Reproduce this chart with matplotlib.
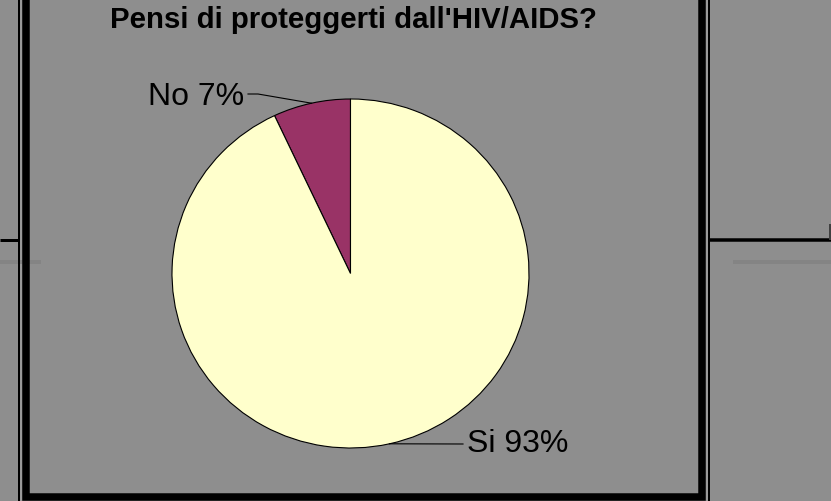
import numpy as np
import matplotlib
matplotlib.use('Agg')
import matplotlib.pyplot as plt
from matplotlib.patches import Rectangle

# dati
categorie = ['No', 'Si']
percentuali = [7, 93]
colori = ['#993366', '#FFFFCC']
titolo = "Pensi di proteggerti dall'HIV/AIDS?"

W, H = 831, 501
plt.rcParams['font.family'] = ['Liberation Sans', 'DejaVu Sans']

fig = plt.figure(figsize=(W / 100, H / 100), dpi=100)
bg = '#8e8e8e'
fig.patch.set_facecolor(bg)

# sfondo con cornici (coordinate in pixel)
ax_bg = fig.add_axes([0, 0, 1, 1])
ax_bg.set_xlim(0, W)
ax_bg.set_ylim(H, 0)
ax_bg.axis('off')
px = 72 / 100  # 1 pixel in punti

# linee verticali sottili (con fessura chiara)
ax_bg.add_patch(Rectangle((20, 0), 2, H, color='#9a9a9a', lw=0, zorder=1))
ax_bg.add_patch(Rectangle((706, 0), 2, H, color='#9a9a9a', lw=0, zorder=1))

# linee orizzontali fuori dal riquadro
ax_bg.plot([0, 18], [239.5, 239.5], color='black', lw=3 * px, solid_capstyle='butt', zorder=2)
ax_bg.plot([709, W], [240, 240], color='black', lw=3.5 * px, solid_capstyle='butt', zorder=2)
ax_bg.plot([830, 830], [224, 240], color='#404040', lw=2 * px, solid_capstyle='butt', zorder=2)
ax_bg.plot([0, 41], [262, 262], color='#848484', lw=4 * px, solid_capstyle='butt', zorder=2)
ax_bg.plot([733, W], [262, 262], color='#848484', lw=4 * px, solid_capstyle='butt', zorder=2)

ax_bg.plot([18.5, 18.5], [0, H], color='black', lw=2 * px, zorder=3)
ax_bg.plot([708.5, 708.5], [0, H], color='black', lw=2 * px, zorder=3)

# riquadro spesso
ax_bg.add_patch(Rectangle((25.5, -20), 676, 517, fill=False, ec='black', lw=7.5 * px, zorder=3))

# titolo
fig.text(353 / W, 1 - 19.5 / H, titolo, ha='center', va='center',
         fontsize=21.2, fontweight='bold', color='black')

# torta
cx, cy, rx, ry = 350.5, 273.5, 178.5, 174.5
ax = fig.add_axes([(cx - rx) / W, (H - cy - ry) / H, 2 * rx / W, 2 * ry / H])
wedges, _ = ax.pie(percentuali, colors=colori, startangle=90, counterclock=True,
                   wedgeprops=dict(edgecolor='black', linewidth=0.8))
ax.set_aspect('auto')
ax.set_xlim(-1, 1)
ax.set_ylim(-1, 1)
ax.axis('off')


def to_ax(px_x, px_y):
    return (px_x - cx) / rx, (cy - px_y) / ry


# etichette con linee guida
for w, nome, val in zip(wedges, categorie, percentuali):
    mid = np.deg2rad((w.theta1 + w.theta2) / 2)
    ex, ey = np.cos(mid), np.sin(mid)
    if nome == 'No':
        kx, ky = to_ax(258, 94)
        lx, ly = to_ax(248, 94)
        tx, ty = to_ax(244, 97)
        ax.plot([ex, kx, lx], [ey, ky, ly], color='black', lw=0.8, clip_on=False)
        ax.text(tx, ty, f'{nome} {val}%', ha='right', va='center', fontsize=23, clip_on=False)
    else:
        lx, ly = to_ax(463, 444)
        tx, ty = to_ax(467, 444)
        ax.plot([ex, lx], [ey, ly], color='black', lw=0.8, clip_on=False)
        ax.text(tx, ty, f'{nome} {val}%', ha='left', va='center', fontsize=23, clip_on=False)

fig.savefig('out.png', dpi=100, facecolor=fig.get_facecolor())
